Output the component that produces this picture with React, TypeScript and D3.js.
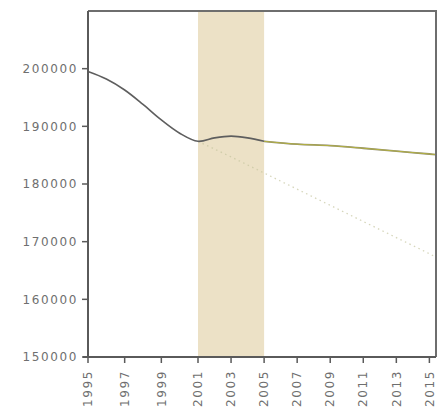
import React from "react";
import * as d3 from "d3";

const years = [1995, 1996, 1997, 1998, 1999, 2000, 2001, 2002, 2003, 2004, 2005];
const observed = [199500, 198200, 196300, 193800, 191100, 188800, 187400, 188000, 188300, 188000, 187400];

const projYears = [2005, 2007, 2009, 2011, 2013, 2015, 2015.4];
const projected = [187400, 186900, 186650, 186200, 185700, 185200, 185100];

const trendYears = [2001, 2003, 2005, 2007, 2009, 2011, 2013, 2015, 2015.4];
const trend = [187400, 184700, 181900, 179100, 176300, 173500, 170700, 167900, 167300];

const bandYears = [2001, 2005];
const xTicks = [1995, 1997, 1999, 2001, 2003, 2005, 2007, 2009, 2011, 2013, 2015];
const yTicks = [150000, 160000, 170000, 180000, 190000, 200000];

const W = 444;
const H = 414;
const left = 88;
const right = 436;
const top = 11;
const bottom = 357;

export default function App() {
  const x = d3.scaleLinear().domain([1995, 2001, 2015.4]).range([left, 198, right]);
  const y = d3.scaleLinear().domain([150000, 210000]).range([bottom, top]);
  const smooth = d3
    .line<[number, number]>()
    .x((d) => x(d[0]))
    .y((d) => y(d[1]))
    .curve(d3.curveCatmullRom.alpha(0.5));
  const line = d3
    .line<[number, number]>()
    .x((d) => x(d[0]))
    .y((d) => y(d[1]))
    .curve(d3.curveMonotoneX);
  const obsPts = years.map((yr, i) => [yr, observed[i]] as [number, number]);
  const projPts = projYears.map((yr, i) => [yr, projected[i]] as [number, number]);
  const trendPts = trendYears.map((yr, i) => [yr, trend[i]] as [number, number]);
  const font = "'DejaVu Sans', sans-serif";
  const labelColor = "#6f6f6f";
  const axisColor = "#5a5a5a";
  return (
    <svg
      width={W}
      height={H}
      style={{ position: "absolute", left: 0, top: 0, background: "#fff" }}
    >
      <rect
        x={x(bandYears[0])}
        y={top}
        width={x(bandYears[1]) - x(bandYears[0])}
        height={bottom - top}
        fill="#ece1c6"
      />
      <path
        d={line(trendPts) || ""}
        fill="none"
        stroke="#c4c49e"
        strokeWidth={1.3}
        strokeDasharray="1.5,3.5"
        opacity={0.7}
      />
      <path d={line(projPts) || ""} fill="none" stroke="#8f8c72" strokeWidth={1.8} />
      <path d={line(projPts) || ""} fill="none" stroke="#b7b43c" strokeWidth={0.9} />
      <path d={smooth(obsPts) || ""} fill="none" stroke="#5e5e5e" strokeWidth={1.6} />
      <path
        d={`M${left},${top}H${right}V${bottom}`}
        fill="none"
        stroke="#6e6e6e"
        strokeWidth={2}
      />
      <line x1={left} x2={left} y1={top} y2={bottom} stroke={axisColor} strokeWidth={2} />
      <line x1={left - 5} x2={right} y1={bottom} y2={bottom} stroke={axisColor} strokeWidth={2} />
      {yTicks.map((t) => (
        <g key={t} transform={`translate(0,${y(t)})`}>
          <line x1={left - 6} x2={left} stroke={axisColor} strokeWidth={1.5} />
          <text
            x={left - 10}
            dy="0.35em"
            textAnchor="end"
            fontFamily={font}
            fontSize={12}
            letterSpacing={1.6}
            fill={labelColor}
          >
            {t}
          </text>
        </g>
      ))}
      {xTicks.map((t) => (
        <g key={t} transform={`translate(${x(t)},${bottom})`}>
          <line y1={0} y2={6} stroke={axisColor} strokeWidth={1.5} />
          <text
            transform="rotate(-90)"
            x={-13}
            dy="0.35em"
            textAnchor="end"
            fontFamily={font}
            fontSize={12}
            letterSpacing={1.6}
            fill={labelColor}
          >
            {t}
          </text>
        </g>
      ))}
    </svg>
  );
}
